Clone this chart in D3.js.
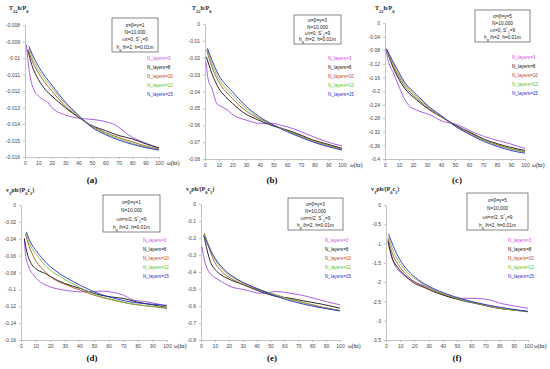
<!DOCTYPE html>
<html>
<head>
<meta charset="utf-8">
<script src="https://cdn.jsdelivr.net/npm/d3@7"></script>
<style>
  body { margin: 0; background: #fff; }
  svg { display: block; background: #fff; }
  .axis path, .axis line { stroke: #9a9a9a; stroke-width: 0.6; }
  .axis text { font-family: "Liberation Sans", Arial, sans-serif; font-size: 5px; fill: #444; }
</style>
</head>
<body>
<svg width="550" height="369"></svg>
<script>
const layerNames = ["N_layers=3", "N_layers=8", "N_layers=10", "N_layers=12", "N_layers=15"];
const lineColors = ["#a24de6", "#111111", "#a5552a", "#78c23c", "#2a2ad0"];
const labelColors = ["#d04ee0", "#111111", "#c0441e", "#5cc02c", "#2a2ad0"];
const xTicks = d3.range(0, 101, 10);

// (a) T22h/P0, alpha=beta=gamma=1
const sA3 = [[1,-0.0092],[2,-0.0100],[4,-0.0112],[6,-0.0118],[10,-0.0123],[13,-0.0125],[17,-0.0127],[20,-0.0130],[30,-0.01345],[40,-0.01365],[50,-0.01372],[60,-0.01385],[65,-0.01397],[70,-0.0142],[75,-0.01452],[80,-0.0148],[90,-0.01515],[100,-0.01548]];
const sA8 = [[2,-0.0095],[5,-0.0104],[10,-0.0113],[15,-0.0119],[20,-0.0123],[30,-0.0130],[40,-0.0136],[50,-0.0141],[60,-0.0144],[70,-0.0147],[80,-0.0149],[90,-0.0152],[100,-0.01545]];
const sA10 = [[2.5,-0.0095],[5,-0.0101],[10,-0.0109],[20,-0.0120],[30,-0.0129],[40,-0.01357],[50,-0.01413],[60,-0.01452],[70,-0.01482],[80,-0.01508],[90,-0.01533],[100,-0.01553]];
const sA12 = [[3,-0.0094],[5,-0.0099],[10,-0.0107],[20,-0.0118],[30,-0.01276],[40,-0.01353],[50,-0.01417],[60,-0.01458],[70,-0.0149],[80,-0.01517],[90,-0.01539],[100,-0.01555]];
const sA15 = [[3,-0.0093],[5,-0.0097],[10,-0.0105],[20,-0.01164],[30,-0.01266],[40,-0.01347],[50,-0.01421],[60,-0.01464],[70,-0.01498],[80,-0.01523],[90,-0.01543],[100,-0.01559]];

// (b) T22h/P0, alpha=beta=gamma=3
const sB3 = [[0.7,-0.0223],[2.4,-0.0332],[5,-0.0381],[8.5,-0.047],[11,-0.0486],[14.6,-0.05],[20.7,-0.054],[30,-0.0569],[40,-0.0589],[50,-0.0589],[55,-0.0599],[60,-0.0609],[70,-0.0638],[79,-0.0668],[89,-0.0698],[100,-0.0723]];
const sB8 = [[1,-0.0194],[5,-0.0292],[10,-0.0381],[15,-0.0431],[20,-0.047],[29,-0.053],[39,-0.0569],[50,-0.0605],[60,-0.0628],[70,-0.0658],[79,-0.0688],[89,-0.0711],[100,-0.0737]];
const sB10 = [[1.2,-0.0154],[5,-0.0253],[10,-0.0342],[20,-0.0441],[29,-0.051],[39,-0.0559],[50,-0.0599],[60,-0.0632],[70,-0.0664],[79,-0.0692],[89,-0.0717],[100,-0.0741]];
const sB12 = [[1.7,-0.015],[5,-0.0233],[10,-0.0322],[20,-0.0421],[29,-0.0494],[39,-0.0553],[50,-0.0599],[60,-0.0634],[70,-0.0668],[79,-0.0696],[89,-0.0721],[100,-0.0745]];
const sB15 = [[1.7,-0.0144],[5,-0.0213],[10,-0.0302],[20,-0.0401],[29,-0.048],[39,-0.0545],[50,-0.0599],[60,-0.0638],[70,-0.0672],[79,-0.07],[89,-0.0725],[100,-0.0747]];

// (c) T22h/P0, alpha=beta=gamma=5
const sC3 = [[0.5,-0.074],[2.4,-0.113],[6,-0.147],[9.5,-0.182],[13,-0.216],[16.7,-0.241],[22.6,-0.256],[32,-0.270],[41.7,-0.29],[50,-0.297],[55,-0.305],[62,-0.319],[71,-0.334],[81,-0.346],[90,-0.356],[100,-0.369]];
const sC8 = [[1.2,-0.079],[5,-0.123],[9.5,-0.162],[14,-0.192],[22.6,-0.226],[32,-0.256],[41.7,-0.28],[50,-0.30],[62,-0.324],[71,-0.342],[81,-0.356],[90,-0.366],[100,-0.375]];
const sC10 = [[1.2,-0.077],[5,-0.118],[9.5,-0.155],[14,-0.185],[22.6,-0.221],[32,-0.254],[41.7,-0.28],[50,-0.302],[62,-0.327],[71,-0.344],[81,-0.359],[90,-0.37],[100,-0.378]];
const sC12 = [[1.2,-0.079],[5,-0.113],[9.5,-0.149],[14,-0.179],[22.6,-0.216],[32,-0.25],[41.7,-0.279],[50,-0.303],[62,-0.329],[71,-0.346],[81,-0.361],[90,-0.371],[100,-0.38]];
const sC15 = [[1.2,-0.077],[5,-0.108],[9.5,-0.142],[14,-0.174],[22.6,-0.211],[32,-0.248],[41.7,-0.277],[50,-0.303],[62,-0.331],[71,-0.349],[81,-0.364],[90,-0.375],[100,-0.383]];

// (d) v3ph/(P0c1), alpha=beta=gamma=1
const sD3 = [[2.3,-0.0398],[3,-0.0575],[5.3,-0.0733],[8.7,-0.0832],[13,-0.091],[20,-0.097],[30,-0.1009],[40.6,-0.1029],[50,-0.1029],[54,-0.102],[61,-0.1029],[70,-0.1068],[77,-0.1127],[86,-0.1147],[100,-0.1198]];
const sD8 = [[2.3,-0.0398],[4,-0.0556],[6.4,-0.0674],[11,-0.0765],[16.7,-0.0812],[24.7,-0.0891],[30,-0.093],[40.6,-0.0989],[50,-0.1048],[61,-0.1088],[70,-0.1107],[79,-0.1147],[91,-0.1186],[100,-0.1214]];
const sD10 = [[3,-0.0339],[5.3,-0.0477],[8.7,-0.0615],[15.5,-0.0772],[22,-0.0871],[31.5,-0.095],[40.6,-0.1009],[50,-0.1068],[61,-0.1119],[70,-0.1155],[79,-0.1182],[91,-0.1206],[100,-0.1226]];
const sD12 = [[3.4,-0.0331],[6.4,-0.0477],[11,-0.0595],[17.8,-0.0741],[27,-0.0851],[36,-0.0938],[45,-0.1017],[54,-0.108],[66,-0.1135],[77,-0.1174],[88.6,-0.1198],[100,-0.1218]];
const sD15 = [[3.7,-0.0319],[6.4,-0.0437],[11,-0.0556],[17.8,-0.0694],[27,-0.082],[36,-0.091],[45,-0.0989],[54,-0.1056],[66,-0.1115],[77,-0.1155],[88.6,-0.1174],[100,-0.119]];

// (e) v3ph/(P0c1), alpha=beta=gamma=3
const sE3 = [[0.7,-0.25],[2.4,-0.328],[5.5,-0.397],[9,-0.426],[12.7,-0.446],[21,-0.485],[32,-0.505],[42.6,-0.525],[54.5,-0.515],[64,-0.525],[71,-0.534],[81,-0.554],[90,-0.574],[100,-0.593]];
const sE8 = [[2,-0.181],[4.3,-0.269],[6.7,-0.338],[11.5,-0.397],[18.7,-0.436],[30.6,-0.475],[42.6,-0.515],[54.5,-0.544],[64,-0.554],[73.7,-0.57],[85.6,-0.587],[100,-0.613]];
const sE10 = [[2.4,-0.171],[5.5,-0.25],[9,-0.328],[16.3,-0.407],[26,-0.456],[37.8,-0.495],[50,-0.525],[62,-0.554],[73.7,-0.58],[85.6,-0.603],[100,-0.627]];
const sE12 = [[2.4,-0.181],[5.5,-0.24],[9,-0.308],[16.3,-0.391],[26,-0.446],[37.8,-0.489],[50,-0.525],[62,-0.558],[73.7,-0.583],[85.6,-0.607],[100,-0.627]];
const sE15 = [[2.4,-0.19],[5.5,-0.25],[9,-0.305],[16.3,-0.383],[26,-0.442],[37.8,-0.489],[50,-0.53],[62,-0.564],[73.7,-0.589],[85.6,-0.609],[100,-0.629]];

// (f) v3ph/(P0c1), alpha=beta=gamma=5
const sF3 = [[1.4,-0.907],[4,-1.34],[7.5,-1.64],[11,-1.77],[15.5,-1.9],[22.4,-2.03],[31.5,-2.16],[40.6,-2.33],[50,-2.42],[61,-2.42],[70,-2.44],[82,-2.56],[91,-2.62],[100,-2.68]];
const sF8 = [[1.4,-0.95],[4,-1.34],[8.7,-1.64],[14.4,-1.86],[20,-2.03],[25.8,-2.12],[33.8,-2.25],[45,-2.39],[56.6,-2.50],[68,-2.59],[79.5,-2.68],[91,-2.72],[100,-2.76]];
const sF10 = [[1.4,-0.86],[4,-1.21],[8.7,-1.55],[14.4,-1.81],[20,-1.99],[27,-2.12],[36,-2.26],[45,-2.37],[56.6,-2.49],[68,-2.59],[79.5,-2.68],[91,-2.73],[100,-2.77]];
const sF12 = [[1.8,-0.82],[5.3,-1.21],[9.8,-1.51],[15.5,-1.77],[22.4,-1.96],[31.5,-2.16],[43,-2.33],[54,-2.46],[66,-2.56],[77,-2.65],[88.6,-2.72],[100,-2.76]];
const sF15 = [[1.8,-0.75],[5.3,-1.08],[9.8,-1.42],[15.5,-1.70],[22.4,-1.93],[31.5,-2.13],[43,-2.31],[54,-2.44],[66,-2.55],[77,-2.63],[88.6,-2.70],[100,-2.76]];

// y ranges (top value, bottom value, tick step)
const yDomains = {
  a: [-0.008, -0.016, 0.001], b: [0, -0.08, 0.01], c: [0, -0.4, 0.04],
  d: [0, -0.16, 0.02], e: [0, -0.8, 0.1], f: [0, -3.5, 0.5]
};
const abg = { a: 1, b: 3, c: 5, d: 1, e: 3, f: 5 };

// layout of each panel in pixels
const panels = [
  { id: "a", series: [sA3, sA8, sA10, sA12, sA15], kind: "T", l: 25, r: 159, t: 25, b: 157, tx: 9, ty: 10,
    box: [112, 18, 46, 34], lx: 147, ly: 60, px: 92, py: 183, wx: 167 },
  { id: "b", series: [sB3, sB8, sB10, sB12, sB15], kind: "T", l: 205, r: 342, t: 24, b: 159, tx: 192, ty: 10,
    box: [294, 15, 47, 29], lx: 328, ly: 60, px: 272, py: 183, wx: 350 },
  { id: "c", series: [sC3, sC8, sC10, sC12, sC15], kind: "T", l: 385, r: 525, t: 23, b: 159, tx: 375, ty: 10,
    box: [475, 10, 55, 32], lx: 512, ly: 59, px: 457, py: 183, wx: 532 },
  { id: "d", series: [sD3, sD8, sD10, sD12, sD15], kind: "V", l: 21, r: 167, t: 205, b: 340, tx: 6, ty: 192,
    box: [103, 195, 57, 37], lx: 143, ly: 242, px: 92, py: 361, wx: 174 },
  { id: "e", series: [sE3, sE8, sE10, sE12, sE15], kind: "V", l: 201, r: 340, t: 204, b: 340, tx: 186, ty: 191,
    box: [288, 198, 55, 32], lx: 325, ly: 242, px: 272, py: 361, wx: 348 },
  { id: "f", series: [sF3, sF8, sF10, sF12, sF15], kind: "V", l: 386, r: 528, t: 205, b: 340, tx: 371, ty: 191,
    box: [467, 193, 61, 37], lx: 508, ly: 242, px: 457, py: 361, wx: 534 }
];

const svg = d3.select("svg");
const fmt = d => String(+d.toFixed(5));

function subText(sel, parts, size) {
  // parts: [text, "sub"|"sup"|null]
  parts.forEach(([txt, kind]) => {
    const ts = sel.append("tspan").text(txt);
    if (kind === "sub") ts.attr("baseline-shift", "sub").style("font-size", (size * 0.75) + "px");
    if (kind === "sup") ts.attr("baseline-shift", "super").style("font-size", (size * 0.75) + "px");
  });
}

panels.forEach(p => {
  const [yTop, yBot, step] = yDomains[p.id];
  const x = d3.scaleLinear().domain([0, 100]).range([p.l, p.r]);
  const y = d3.scaleLinear().domain([yBot, yTop]).range([p.b, p.t]);
  const nTicks = Math.round((yTop - yBot) / step);
  const yTicks = d3.range(0, nTicks + 1).map(i => +(yTop - i * step).toFixed(6));

  const g = svg.append("g");

  g.append("g")
    .attr("class", "axis")
    .attr("transform", `translate(0,${p.b})`)
    .call(d3.axisBottom(x).tickValues(xTicks).tickSize(2).tickPadding(2).tickSizeOuter(0));

  g.append("g")
    .attr("class", "axis")
    .attr("transform", `translate(${p.l},0)`)
    .call(d3.axisLeft(y).tickValues(yTicks).tickFormat(fmt).tickSize(2).tickPadding(3).tickSizeOuter(0));

  // curves
  const line = d3.line()
    .x(d => x(d[0]))
    .y(d => y(d[1]))
    .curve(d3.curveMonotoneX);

  p.series.forEach((s, i) => {
    g.append("path")
      .datum(s)
      .attr("fill", "none")
      .attr("stroke", lineColors[i])
      .attr("stroke-width", 0.9)
      .attr("d", line);
  });

  // axis title
  const title = g.append("text")
    .attr("x", p.tx)
    .attr("y", p.ty)
    .style("font-family", "'Liberation Serif', serif")
    .style("font-weight", "bold")
    .style("font-size", "6px")
    .attr("fill", "#222");
  if (p.kind === "T") {
    subText(title, [["T", null], ["22", "sub"], ["h/P", null], ["0", "sub"]], 6);
  } else {
    subText(title, [["v", null], ["3", "sub"], ["ρh/(P", null], ["0", "sub"], ["c", null], ["1", "sub"], [")", null]], 6);
  }

  // omega label
  g.append("text")
    .attr("x", p.wx)
    .attr("y", p.b + 8)
    .style("font-family", "'Liberation Serif', serif")
    .style("font-size", "5.6px")
    .attr("fill", "#222")
    .text("ω(hz)");

  // parameter box
  const [bx, by, bw, bh] = p.box;
  g.append("rect")
    .attr("x", bx).attr("y", by).attr("width", bw).attr("height", bh)
    .attr("fill", "#fff").attr("stroke", "#555").attr("stroke-width", 0.7);
  const cx = bx + bw / 2;
  const lineY = [0.25, 0.47, 0.69, 0.91].map(f => by + bh * f);
  const boxText = (yy) => g.append("text")
    .attr("x", cx).attr("y", yy)
    .attr("text-anchor", "middle")
    .style("font-family", "'Liberation Sans', Arial, sans-serif")
    .style("font-size", "4.8px")
    .attr("fill", "#222");
  boxText(lineY[0]).text(`α=β=γ=${abg[p.id]}`);
  boxText(lineY[1]).text("N=10,000");
  subText(boxText(lineY[2]), [[p.kind === "T" ? "ωt=0, S" : "ωt=π/2, S", null], ["*", "sup"], ["1", "sub"], ["=9", null]], 4.8);
  subText(boxText(lineY[3]), [["h", null], ["g", "sub"], [" /h=2,  h=0.01m", null]], 4.8);

  // series labels
  layerNames.forEach((name, i) => {
    g.append("text")
      .attr("x", p.lx)
      .attr("y", p.ly + i * 9)
      .style("font-family", "'Liberation Sans', Arial, sans-serif")
      .style("font-size", "4.6px")
      .attr("fill", labelColors[i])
      .text(name);
  });

  // panel letter
  g.append("text")
    .attr("x", p.px)
    .attr("y", p.py)
    .attr("text-anchor", "middle")
    .style("font-family", "'Liberation Serif', serif")
    .style("font-weight", "bold")
    .style("font-size", "9px")
    .attr("fill", "#111")
    .text(`(${p.id})`);
});
</script>
</body>
</html>
